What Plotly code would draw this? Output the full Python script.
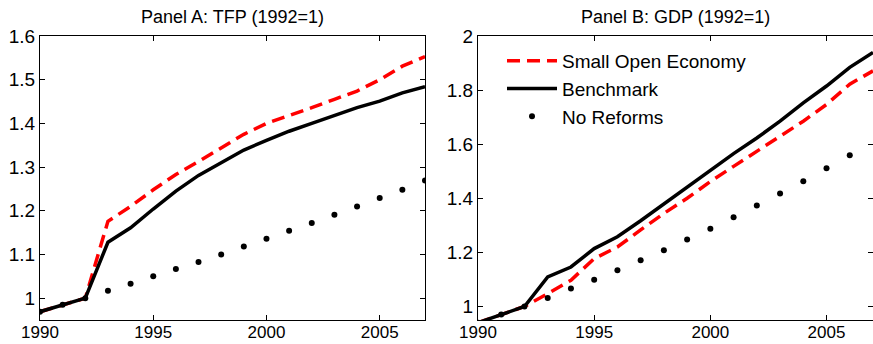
import plotly.graph_objects as go

years = list(range(1990, 2008))

tfp_soe = [0.969, 0.985, 1.000, 1.176, 1.210, 1.248, 1.283, 1.313, 1.344, 1.375,
           1.400, 1.417, 1.436, 1.455, 1.474, 1.500, 1.531, 1.553]
tfp_bench = [0.969, 0.985, 1.000, 1.128, 1.161, 1.204, 1.245, 1.281, 1.311, 1.339,
             1.361, 1.382, 1.400, 1.418, 1.436, 1.451, 1.470, 1.484]
tfp_noref = [0.969, 0.985, 1.000, 1.017, 1.033, 1.050, 1.067, 1.083, 1.100, 1.118,
             1.136, 1.154, 1.172, 1.191, 1.210, 1.229, 1.248, 1.269]

gdp_soe = [0.940, 0.970, 1.000, 1.047, 1.097, 1.177, 1.220, 1.283, 1.344, 1.400,
           1.462, 1.518, 1.574, 1.630, 1.685, 1.747, 1.822, 1.871]
gdp_bench = [0.940, 0.970, 1.000, 1.109, 1.146, 1.214, 1.258, 1.317, 1.379, 1.444,
             1.506, 1.565, 1.623, 1.685, 1.753, 1.815, 1.884, 1.939]
gdp_noref = [0.940, 0.970, 1.000, 1.031, 1.066, 1.099, 1.134, 1.171, 1.208, 1.248,
             1.287, 1.330, 1.373, 1.418, 1.463, 1.511, 1.559, None]

titles = ["Panel A: TFP (1992=1)", "Panel B: GDP (1992=1)"]
names = ["Small Open Economy", "Benchmark", "No Reforms"]

FONT = "Liberation Sans, Arial, Helvetica, sans-serif"

fig = go.Figure()

def add_panel(xa, ya, soe, bench, noref, show):
    fig.add_trace(go.Scatter(x=years, y=soe, mode="lines", name=names[0],
                             line=dict(color="#ff0000", width=3.5, dash="13px,7px"),
                             xaxis=xa, yaxis=ya, showlegend=show, cliponaxis=True))
    fig.add_trace(go.Scatter(x=years, y=bench, mode="lines", name=names[1],
                             line=dict(color="black", width=3.5),
                             xaxis=xa, yaxis=ya, showlegend=show, cliponaxis=True))
    fig.add_trace(go.Scatter(x=years, y=noref, mode="markers", name=names[2],
                             marker=dict(color="black", size=6),
                             xaxis=xa, yaxis=ya, showlegend=show, cliponaxis=True))

add_panel("x", "y", tfp_soe, tfp_bench, tfp_noref, False)
add_panel("x2", "y2", gdp_soe, gdp_bench, gdp_noref, True)

axis_common = dict(showline=True, linecolor="black", linewidth=1, mirror="ticks",
                   ticks="inside", ticklen=5, tickcolor="black", showgrid=False,
                   zeroline=False, automargin=False)
yfont = dict(family=FONT, size=19, color="black")
xfont = dict(family=FONT, size=17, color="black")

ydom = [1 - 320 / 344, 1 - 36 / 344]
fig.update_layout(
    template="none",
    width=873, height=344,
    margin=dict(l=0, r=0, t=0, b=0, pad=0),
    paper_bgcolor="white", plot_bgcolor="white",
    xaxis=dict(domain=[40 / 873, 425 / 873], range=[1990, 2007],
               tickvals=[1990, 1995, 2000, 2005], anchor="y",
               tickfont=xfont, ticklabelstandoff=-3, **axis_common),
    yaxis=dict(domain=ydom, range=[0.95, 1.6],
               tickvals=[1.0, 1.1, 1.2, 1.3, 1.4, 1.5, 1.6],
               ticktext=["1", "1.1", "1.2", "1.3", "1.4", "1.5", "1.6"],
               anchor="x", tickfont=yfont, **axis_common),
    xaxis2=dict(domain=[478 / 873, 1.0], range=[1990, 2007],
                tickvals=[1990, 1995, 2000, 2005], anchor="y2",
                tickfont=xfont, ticklabelstandoff=-3, **axis_common),
    yaxis2=dict(domain=ydom, range=[0.95, 2.0],
                tickvals=[1.0, 1.2, 1.4, 1.6, 1.8, 2.0],
                ticktext=["1", "1.2", "1.4", "1.6", "1.8", "2"],
                anchor="x2", tickfont=yfont, **axis_common),
    legend=dict(x=502 / 873, y=1 - 42 / 344, xanchor="left", yanchor="top",
                bgcolor="rgba(0,0,0,0)", borderwidth=0,
                font=dict(family=FONT, size=19, color="black"),
                tracegroupgap=0, itemwidth=50),
    showlegend=True,
)

fig.add_annotation(text=titles[0], x=(40 + 425) / 2 / 873, y=1 - 17 / 344,
                   xref="paper", yref="paper", showarrow=False,
                   xanchor="center", yanchor="middle",
                   font=dict(family=FONT, size=18, color="black"))
fig.add_annotation(text=titles[1], x=(478 + 873) / 2 / 873, y=1 - 17 / 344,
                   xref="paper", yref="paper", showarrow=False,
                   xanchor="center", yanchor="middle",
                   font=dict(family=FONT, size=18, color="black"))

fig.write_html("out.html")
